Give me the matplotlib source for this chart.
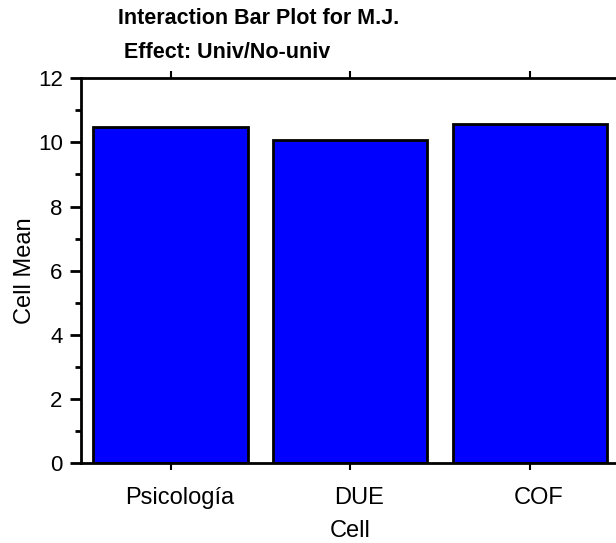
import numpy as np
import matplotlib
matplotlib.use("Agg")
import matplotlib.pyplot as plt
import matplotlib.transforms as mtransforms

plt.rcParams['font.family'] = ['Liberation Sans', 'DejaVu Sans']

cells = ['Psicología', 'DUE', 'COF']
means = [10.48, 10.06, 10.56]

fig = plt.figure(figsize=(6.16, 5.43), dpi=100)
ax = fig.add_axes([0.131, 0.147, 0.875, 0.709])

x = np.arange(len(cells))
ax.bar(x, means, width=0.86, color='#0000ff', edgecolor='black', linewidth=2)

ax.set_xlim(-0.5, 2.5)
ax.set_ylim(0, 12)
ax.set_xticks(x)
ax.set_xticklabels(cells, fontsize=17)
ax.set_yticks(np.arange(0, 13, 2))
ax.set_yticks(np.arange(1, 12, 2), minor=True)
ax.tick_params(axis='y', which='major', direction='out', length=8, width=2,
               labelsize=16, pad=5)
ax.tick_params(axis='y', which='minor', direction='out', length=4, width=2)
ax.tick_params(axis='x', which='major', direction='out', length=5, width=1.5,
               top=True, pad=12)

# labels sit a bit right of their ticks in the original
off = mtransforms.ScaledTranslation(9 / 100, 0, fig.dpi_scale_trans)
for lab in ax.get_xticklabels():
    lab.set_transform(lab.get_transform() + off)

for s in ['left', 'bottom', 'top']:
    ax.spines[s].set_linewidth(2)
ax.spines['right'].set_visible(False)

ax.set_ylabel('Cell Mean', fontsize=17, labelpad=1)
ax.set_xlabel('Cell', fontsize=17, labelpad=8)

fig.text(118 / 616, 1 - 19 / 543, 'Interaction Bar Plot for M.J.', fontsize=15.5,
         fontweight='bold', va='center', ha='left')
fig.text(124 / 616, 1 - 52 / 543, 'Effect: Univ/No-univ', fontsize=15.5,
         fontweight='bold', va='center', ha='left')

fig.savefig('out.png', dpi=100)
